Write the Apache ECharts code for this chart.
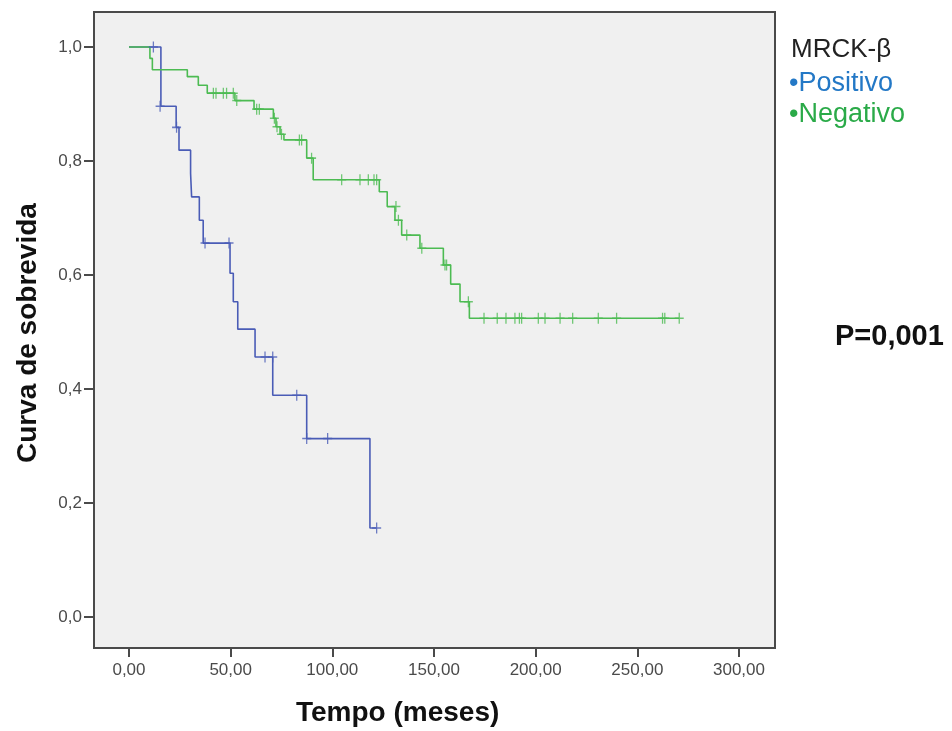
<!DOCTYPE html>
<html>
<head>
<meta charset="utf-8">
<script src="https://cdn.jsdelivr.net/npm/echarts@6/dist/echarts.min.js"></script>
<style>
	html, body { margin: 0; padding: 0; background: #fff; }
	#main { width: 952px; height: 731px; }
</style>
</head>
<body>
<div id="main"></div>
<script>
// Kaplan-Meier steps: [tempo, sobrevida] after each event
var positivoSteps = [[0, 1.0], [15.7, 0.896], [23.2, 0.859], [24.6, 0.819], [30.3, 0.778], [30.8, 0.737],
	[34.6, 0.696], [36.5, 0.656], [49.7, 0.603], [51.3, 0.553], [53.5, 0.505], [62.0, 0.456],
	[70.7, 0.389], [87.4, 0.313], [118.5, 0.156], [121.8, 0.156]];
var negativoSteps = [[0, 1.0], [10.3, 0.98], [11.5, 0.96], [28.7, 0.948], [34.1, 0.933], [38.5, 0.919],
	[52.1, 0.906], [61.5, 0.891], [71.0, 0.875], [72.3, 0.86], [74.3, 0.847], [76.2, 0.837],
	[87.4, 0.805], [90.6, 0.767], [123.1, 0.746], [127.0, 0.72], [130.8, 0.696], [134.1, 0.67],
	[143.1, 0.647], [154.6, 0.6175], [158.2, 0.584], [162.8, 0.553], [167.4, 0.524], [270.6, 0.524]];

// censored cases (+)
var positivoCensor = [[12.0, 1.0], [15.3, 0.896], [23.4, 0.859], [37.4, 0.656], [49.2, 0.656],
	[66.9, 0.456], [70.7, 0.456], [82.5, 0.389], [87.4, 0.313], [97.7, 0.313], [121.8, 0.156]];
var negativoCensor = [[41.5, 0.919], [42.8, 0.919], [46.4, 0.919], [48.0, 0.919], [51.3, 0.919],
	[53.0, 0.906], [62.8, 0.891], [64.1, 0.891], [71.5, 0.875], [72.8, 0.86], [75.0, 0.847],
	[83.8, 0.837], [84.9, 0.837], [89.8, 0.805], [104.6, 0.767], [113.6, 0.767], [117.7, 0.767],
	[120.5, 0.767], [121.8, 0.767], [131.3, 0.72], [132.5, 0.696], [136.6, 0.67], [144.0, 0.647],
	[155.4, 0.6175], [156.2, 0.6175], [166.9, 0.553], [174.6, 0.524], [181.1, 0.524], [185.4, 0.524],
	[189.8, 0.524], [192.0, 0.524], [193.1, 0.524], [201.3, 0.524], [204.6, 0.524], [212.0, 0.524],
	[218.2, 0.524], [230.8, 0.524], [239.8, 0.524], [262.4, 0.524], [263.5, 0.524], [270.6, 0.524]];

var xTicks = [0, 50, 100, 150, 200, 250, 300];
var yTicks = [0, 0.2, 0.4, 0.6, 0.8, 1.0];

var blue = '#4a5cb6';
var green = '#4cbb52';
var frame = '#4a4a4a';
var plus = 'path://M5,0 L5,10 M0,5 L10,5';

var myChart = echarts.init(document.getElementById('main'));

function censorSeries(data, color) {
	return {
		type: 'scatter',
		data: data,
		symbol: plus,
		symbolSize: [9, 11],
		itemStyle: { color: color, borderColor: color, borderWidth: 1.4 },
		silent: true,
		z: 3
	};
}

function stepSeries(data, color) {
	return {
		type: 'line',
		step: 'end',
		data: data,
		showSymbol: false,
		lineStyle: { color: color, width: 1.6 },
		silent: true,
		z: 2
	};
}

var option = {
	backgroundColor: '#fff',
	animation: false,
	grid: {
		left: 94, top: 12, width: 681, height: 636,
		show: true,
		backgroundColor: '#f0f0f0',
		borderColor: frame,
		borderWidth: 2
	},
	xAxis: {
		type: 'value',
		min: -17.2,
		max: 317.7,
		axisLine: { show: true, onZero: false, lineStyle: { color: frame, width: 2 } },
		splitLine: { show: false },
		axisTick: { show: true, customValues: xTicks, length: 9, lineStyle: { color: frame, width: 2 } },
		axisLabel: {
			customValues: xTicks,
			margin: 14,
			color: '#4a4a4a',
			fontSize: 17,
			fontFamily: 'Liberation Sans',
			formatter: function (v) { return v.toFixed(2).replace('.', ','); }
		}
	},
	yAxis: {
		type: 'value',
		min: -0.0544,
		max: 1.0614,
		axisLine: { show: true, onZero: false, lineStyle: { color: frame, width: 2 } },
		splitLine: { show: false },
		axisTick: { show: true, customValues: yTicks, length: 10, lineStyle: { color: frame, width: 2 } },
		axisLabel: {
			customValues: yTicks,
			margin: 12,
			color: '#4a4a4a',
			fontSize: 17,
			fontFamily: 'Liberation Sans',
			formatter: function (v) { return v.toFixed(1).replace('.', ','); }
		}
	},
	graphic: [
		{ type: 'text', left: 296, top: 699, style: { text: 'Tempo (meses)', font: 'bold 28px "Liberation Sans"', fill: '#111' } },
		{ type: 'text', x: 14, y: 463, rotation: Math.PI / 2, style: { text: 'Curva de sobrevida', font: 'bold 28px "Liberation Sans"', fill: '#111' } },
		{ type: 'text', left: 791, top: 37, style: { text: 'MRCK-\u03b2', font: '26px "Liberation Sans"', fill: '#222' } },
		{ type: 'text', left: 789, top: 70, style: { text: '\u2022Positivo', font: '27px "Liberation Sans"', fill: '#2378c6' } },
		{ type: 'text', left: 789, top: 101, style: { text: '\u2022Negativo', font: '27px "Liberation Sans"', fill: '#2aaa48' } },
		{ type: 'text', left: 835, top: 322, style: { text: 'P=0,001', font: 'bold 29px "Liberation Sans"', fill: '#111' } }
	],
	series: [
		stepSeries(positivoSteps, blue),
		stepSeries(negativoSteps, green),
		censorSeries(positivoCensor, blue),
		censorSeries(negativoCensor, green)
	]
};

myChart.setOption(option);
</script>
</body>
</html>
